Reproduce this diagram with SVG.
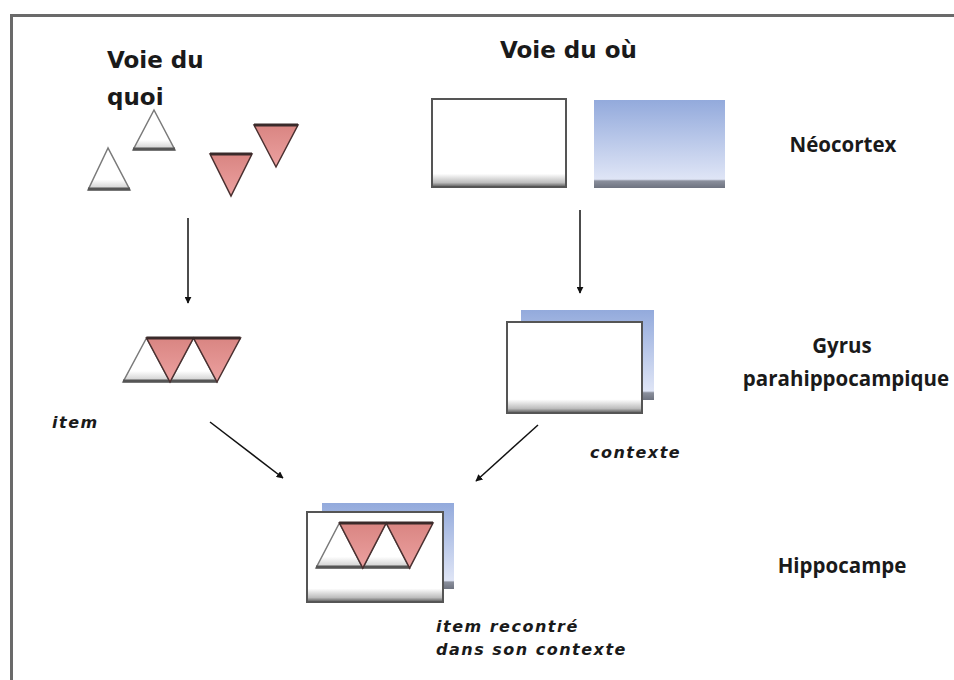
<svg xmlns="http://www.w3.org/2000/svg" width="954" height="680" viewBox="0 0 954 680">
<defs>
<linearGradient id="blueG" x1="0" y1="0" x2="0" y2="1">
<stop offset="0" stop-color="#93aadc"/>
<stop offset="0.9" stop-color="#dfe5f6"/>
<stop offset="0.92" stop-color="#8a8f9c"/>
<stop offset="1" stop-color="#6e7380"/>
</linearGradient>
<linearGradient id="whiteG" x1="0" y1="0" x2="0" y2="1">
<stop offset="0" stop-color="#ffffff"/>
<stop offset="0.85" stop-color="#ffffff"/>
<stop offset="0.95" stop-color="#bdbdbd"/>
<stop offset="1" stop-color="#555555"/>
</linearGradient>
<linearGradient id="pinkG" x1="0" y1="0" x2="0" y2="1">
<stop offset="0" stop-color="#d98582"/>
<stop offset="1" stop-color="#eca1a0"/>
</linearGradient>
<linearGradient id="triW" x1="0" y1="0" x2="0" y2="1">
<stop offset="0" stop-color="#ffffff"/>
<stop offset="0.75" stop-color="#ffffff"/>
<stop offset="1" stop-color="#c8c8c8"/>
</linearGradient>
<marker id="ah" viewBox="0 0 10 10" refX="9" refY="5" markerWidth="7" markerHeight="7" markerUnits="userSpaceOnUse" orient="auto">
<path d="M0,0 L10,5 L0,10 z" fill="#111"/>
</marker>
</defs>
<style>
.frame{fill:none;stroke:#6a6a6a;stroke-width:3}
.title{font-family:"DejaVu Sans",Verdana,sans-serif;font-weight:bold;font-size:23px;fill:#1a1a1a}
.lbl{font-family:"Open Sans","Liberation Sans",sans-serif;font-weight:bold;font-size:20.5px;fill:#1a1a1a;text-anchor:middle}
.it{font-family:"DejaVu Sans",Verdana,sans-serif;font-weight:bold;font-style:italic;font-size:16px;letter-spacing:1.5px;fill:#1a1a1a}
.wr{fill:url(#whiteG);stroke:#555;stroke-width:2}
.br{fill:url(#blueG);stroke:none}
.tw{fill:url(#triW);stroke:#7a7a7a;stroke-width:1.5}
.base{stroke:#555;stroke-width:3}
.tp{fill:url(#pinkG);stroke:#4a3030;stroke-width:1.5}
.tptop{stroke:#3a2a2a;stroke-width:3}
.conn{stroke:#111;stroke-width:1.5;fill:none;marker-end:url(#ah)}
</style>
<rect width="954" height="680" fill="#ffffff"/>
<path class="frame" d="M11.5,680 L11.5,15.5 L954,15.5"/>

<g id="voie-quoi">
<text class="title" x="107" y="68">Voie du</text>
<text class="title" x="107" y="105">quoi</text>
</g>
<g id="voie-ou">
<text class="title" x="500" y="58">Voie du où</text>
</g>

<g id="neo-items">
<polygon class="tw" points="108,148 88,190 130,190"/>
<line class="base" x1="88" y1="189" x2="130" y2="189"/>
<polygon class="tw" points="154,110 133,150 175,150"/>
<line class="base" x1="133" y1="149" x2="175" y2="149"/>
<polygon class="tp" points="210,154 252,154 231,196"/>
<line class="tptop" x1="210" y1="154" x2="252" y2="154"/>
<polygon class="tp" points="254,125 298,125 276,167"/>
<line class="tptop" x1="254" y1="125" x2="298" y2="125"/>
</g>

<g id="neo-context">
<rect class="wr" x="432" y="99" width="134" height="88"/>
<rect class="br" x="594" y="100" width="131" height="88"/>
</g>

<g id="label-neocortex"><text class="lbl" x="843" y="152">Néocortex</text></g>

<g id="gyrus-item">
<polygon class="tw" points="146.5,338 123,382 170,382"/>
<polygon class="tw" points="193.5,338 170,382 217,382"/>
<line class="base" x1="123" y1="381" x2="217" y2="381"/>
<polygon class="tp" points="146.5,338 193.5,338 170,382"/>
<polygon class="tp" points="193.5,338 240.5,338 217,382"/>
<line class="tptop" x1="146.5" y1="338" x2="240.5" y2="338"/>
<text class="it" x="52" y="428">item</text>
</g>

<g id="gyrus-context">
<rect class="br" x="521" y="310" width="133" height="90"/>
<rect class="wr" x="507" y="322" width="135" height="91"/>
<text class="it" x="590" y="458">contexte</text>
</g>

<g id="label-gyrus">
<text class="lbl" x="842" y="353">Gyrus</text>
<text class="lbl" x="846" y="386">parahippocampique</text>
</g>

<g id="hippocampe">
<rect class="br" x="322" y="503" width="132" height="86"/>
<rect class="wr" x="307" y="512" width="136" height="90"/>
<polygon class="tw" points="339.4,523 316,568 362.8,568"/>
<polygon class="tw" points="386.2,523 362.8,568 409.6,568"/>
<line class="base" x1="316" y1="567" x2="409.6" y2="567"/>
<polygon class="tp" points="339.4,523 386.2,523 362.8,568"/>
<polygon class="tp" points="386.2,523 433,523 409.6,568"/>
<line class="tptop" x1="339.4" y1="523" x2="433" y2="523"/>
<text class="it" x="436" y="632">item recontré</text>
<text class="it" x="436" y="655">dans son contexte</text>
</g>

<g id="label-hippocampe"><text class="lbl" x="842" y="573">Hippocampe</text></g>

<g id="connectors">
<line class="conn" x1="188" y1="218" x2="188" y2="303"/>
<line class="conn" x1="580" y1="210" x2="580" y2="293"/>
<line class="conn" x1="210" y1="422" x2="283" y2="478"/>
<line class="conn" x1="538" y1="425" x2="476" y2="481"/>
</g>
</svg>
